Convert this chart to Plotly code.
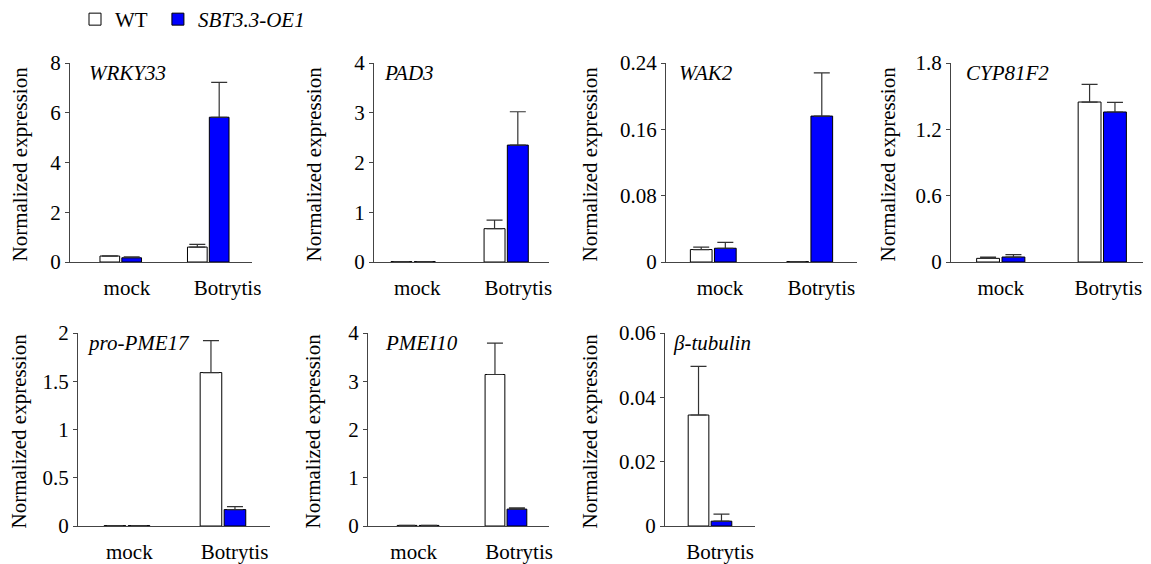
import plotly.graph_objects as go

# page offset of the figure inside the html body (default body margin 8px)
OFF = 8
W, H = 1151 - OFF, 564 - OFF

genes = ["WRKY33", "PAD3", "WAK2", "CYP81F2", "pro-PME17", "PMEI10", "β-tubulin"]
cats_two = ["mock", "Botrytis"]
cats_one = ["Botrytis"]
categories = [cats_two, cats_two, cats_two, cats_two, cats_two, cats_two, cats_one]

wt_mean = [[0.24, 0.60], [0.008, 0.67], [0.015, 0.0005], [0.033, 1.447],
           [0.004, 1.59], [0.012, 3.14], [0.0345]]
wt_err = [[0.01, 0.11], [0.0, 0.17], [0.003, 0.0], [0.012, 0.16],
          [0.0, 0.33], [0.0, 0.65], [0.0151]]
oe_mean = [[0.17, 5.82], [0.008, 2.35], [0.0166, 0.176], [0.045, 1.357],
           [0.004, 0.17], [0.012, 0.35], [0.0015]]
oe_err = [[0.04, 1.40], [0.0, 0.67], [0.007, 0.052], [0.021, 0.087],
          [0.0, 0.03], [0.0, 0.026], [0.0022]]

y_ticks = [[0, 2, 4, 6, 8], [0, 1, 2, 3, 4], [0, 0.08, 0.16, 0.24], [0, 0.6, 1.2, 1.8],
           [0, 0.5, 1, 1.5, 2], [0, 1, 2, 3, 4], [0, 0.02, 0.04, 0.06]]
y_tick_text = [["0", "2", "4", "6", "8"], ["0", "1", "2", "3", "4"],
               ["0", "0.08", "0.16", "0.24"], ["0", "0.6", "1.2", "1.8"],
               ["0", "0.5", "1", "1.5", "2"], ["0", "1", "2", "3", "4"],
               ["0", "0.02", "0.04", "0.06"]]

series_names = ["WT\u00a0", "<i>SBT3.3-OE1</i>"]
series_fill = ["white", "#0000FF"]

# layout (page pixels / axis units) - styling only
x_dom_px = [(70, 252), (374, 549), (666, 857), (951, 1151), (78, 270), (368, 549), (665, 755)]
x_ranges = [(-0.58, 1.5), (-0.42, 1.46), (-0.49, 1.49), (-0.49, 1.48),
            (-0.51, 1.49), (-0.57, 1.49), (-0.49, 0.49)]
label_shift = [(0.07, 0.22), (0.045, 0.13), (0.07, 0.12), (0.0, 0.06),
               (0.025, 0.12), (-0.05, 0.15), (0.11,)]
rows_px = [(63, 262), (63, 262), (63, 262), (63, 262), (333, 526), (333, 526), (333, 526)]
title_x_px = [19, 313, 589, 887, 18, 312, 589]
gene_x_px = [87, 382, 677, 964, 85, 383, 671]


def fx(px):
    return (px - OFF) / W


def fy(py):
    return 1 - (py - OFF) / H


FONT = "Liberation Serif, Times New Roman, Tinos, DejaVu Serif, serif"
AX = "#444444"

fig = go.Figure()
annotations = []
for i, g in enumerate(genes):
    n = "" if i == 0 else str(i + 1)
    xa, ya = "x" + n, "y" + n
    idx = list(range(len(categories[i])))
    for s, (means, errs) in enumerate([(wt_mean[i], wt_err[i]), (oe_mean[i], oe_err[i])]):
        fig.add_trace(go.Bar(
            x=idx, y=means, name=series_names[s],
            marker=dict(color=series_fill[s], line=dict(color="black", width=1)),
            error_y=dict(type="data", array=errs, arrayminus=[0] * len(errs), symmetric=False,
                         color="#333333", thickness=1.2, width=8),
            xaxis=xa, yaxis=ya, showlegend=(i == 0), legendgroup=str(s),
            hovertext=categories[i],
        ))
    x0, x1 = x_dom_px[i]
    yt, yb = rows_px[i]
    fig.layout["xaxis" + n] = dict(
        type="linear", domain=[fx(x0), min(1.0, fx(x1))], anchor=ya, range=list(x_ranges[i]),
        automargin=False, showline=True, linecolor=AX, linewidth=1, ticks="", showgrid=False,
        zeroline=False, ticklabelstandoff=7,
        tickvals=[k + d for k, d in zip(idx, label_shift[i])], ticktext=categories[i],
        tickfont=dict(family=FONT, size=21, color="black"), fixedrange=True,
    )
    top = y_ticks[i][-1]
    fig.layout["yaxis" + n] = dict(
        domain=[fy(yb), fy(yt)], anchor=xa, range=[0, top], automargin=False,
        showline=True, linecolor=AX, linewidth=1, ticks="outside", ticklen=4,
        tickcolor=AX, tickvals=y_ticks[i], ticktext=y_tick_text[i], showgrid=False,
        zeroline=False, tickfont=dict(family=FONT, size=21, color="black"), fixedrange=True,
    )
    annotations.append(dict(
        text="Normalized expression", textangle=-90, xref="paper", yref="paper",
        x=fx(title_x_px[i]), y=fy((yt + yb) / 2 + 2), xanchor="center", yanchor="middle",
        showarrow=False, font=dict(family=FONT, size=21, color="black"),
    ))
    annotations.append(dict(
        text="<i>" + g + "</i>", xref="paper", yref="paper",
        x=fx(gene_x_px[i]), y=fy(yt + 10), xanchor="left", yanchor="middle",
        showarrow=False, font=dict(family=FONT, size=21, color="black"),
    ))

fig.update_layout(
    template="none",
    width=W, height=H, margin=dict(l=0, r=0, t=0, b=0, autoexpand=False),
    paper_bgcolor="white", plot_bgcolor="white",
    barmode="group", bargap=0.5, bargroupgap=0.1,
    font=dict(family=FONT, size=21, color="black"),
    annotations=annotations,
    legend=dict(orientation="h", x=67 / W, y=1 + 9 / H, xanchor="left", yanchor="top",
                font=dict(family=FONT, size=21, color="black"), traceorder="normal",
                bgcolor="rgba(0,0,0,0)", itemclick=False, itemdoubleclick=False),
)

fig.write_html("out.html")
